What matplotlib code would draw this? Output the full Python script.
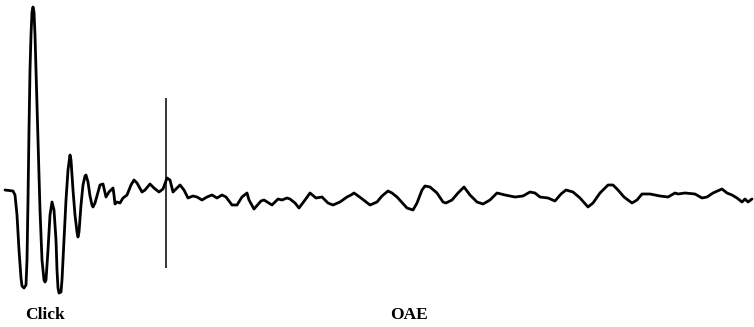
import numpy as np
import matplotlib
matplotlib.use("Agg")
import matplotlib.pyplot as plt

# waveform samples (horizontal position, vertical position; baseline ~190)
t = [5, 13, 15, 17, 19, 21, 22, 24, 26, 27, 28, 29, 30, 31, 32, 33, 34, 35, 36, 38,
     40, 42, 44, 45, 46, 48, 50, 52, 54, 56, 57, 58, 59, 61, 62, 64, 66, 68, 70, 71,
     73, 75, 77, 78, 79, 81, 83, 85, 86, 88, 90, 92, 93, 95, 98, 100, 103, 106, 109,
     113, 114, 115, 117, 120, 123, 127, 131, 134, 137, 142, 145, 150, 154, 159, 163,
     167, 170, 173, 175, 180, 184, 188, 193, 197, 202, 207, 212, 217, 222, 226, 232,
     237, 242, 247, 249, 254, 261, 264, 272, 278, 282, 287, 290, 295, 299, 305, 310,
     316, 322, 328, 333, 340, 347, 351, 354, 361, 370, 377, 382, 388, 392, 397, 407,
     413, 417, 422, 425, 430, 437, 443, 446, 452, 458, 464, 470, 477, 483, 490, 497,
     505, 515, 523, 530, 535, 540, 548, 555, 561, 566, 573, 580, 588, 593, 600, 605,
     608, 613, 618, 624, 632, 637, 642, 650, 660, 668, 675, 678, 685, 695, 702, 707,
     713, 722, 727, 732, 737, 742, 745, 748, 752]
y = [190, 191, 195, 215, 250, 278, 286, 288, 285, 260, 200, 130, 70, 35, 12, 7, 12,
     35, 70, 140, 210, 260, 280, 282, 280, 250, 215, 202, 210, 240, 270, 288, 293,
     292, 280, 240, 200, 170, 155, 160, 190, 215, 232, 237, 232, 205, 185, 176, 175,
     182, 196, 205, 207, 203, 192, 185, 184, 197, 192, 188, 195, 204, 202, 203, 198,
     195, 185, 180, 183, 192, 190, 184, 188, 192, 189, 178, 180, 192, 190, 185, 190,
     198, 196, 197, 200, 197, 195, 198, 195, 197, 205, 205, 197, 193, 200, 209, 201,
     200, 205, 199, 200, 198, 199, 203, 208, 200, 193, 198, 197, 203, 205, 202, 197,
     195, 193, 198, 205, 202, 196, 191, 193, 197, 208, 210, 203, 190, 186, 187, 193,
     202, 203, 200, 193, 187, 195, 202, 204, 200, 193, 195, 197, 196, 192, 193, 197,
     198, 201, 194, 190, 192, 198, 207, 203, 193, 188, 185, 185, 190, 197, 203, 200,
     194, 194, 196, 197, 193, 194, 193, 194, 198, 197, 193, 189, 193, 195, 198, 202,
     199, 202, 199]

stim_x = 166
stim_top, stim_bottom = 98, 268

labels = ["Click", "OAE"]
label_x = [45, 409]
label_y = 315

fig = plt.figure(figsize=(7.54, 3.27), dpi=100)
ax = fig.add_axes([0, 0, 1, 1])
ax.plot(t, y, color="black", lw=2.0, solid_joinstyle="round", solid_capstyle="round")
ax.vlines(stim_x, stim_top, stim_bottom, color="black", lw=1.1)
for lab, lx in zip(labels, label_x):
    ax.text(lx, label_y, lab, ha="center", va="center", fontsize=12.5,
            family="Liberation Serif", fontweight="bold")
ax.set_xlim(0, 754)
ax.set_ylim(327, 0)
ax.axis("off")
fig.savefig("out.png", dpi=100)
